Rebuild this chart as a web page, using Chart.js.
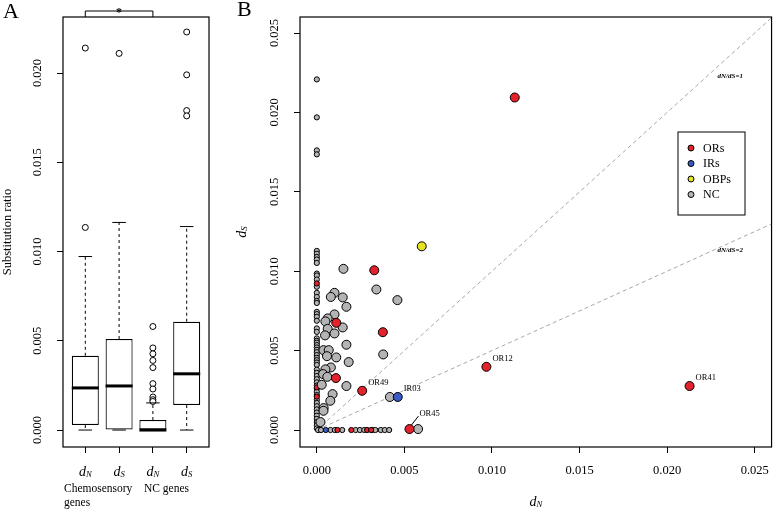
<!DOCTYPE html>
<html>
<head>
<meta charset="utf-8">
<script src="https://cdn.jsdelivr.net/npm/chart.js@4.4.0/dist/chart.umd.min.js"></script>
<style>
  body { margin: 0; background: #fff; }
  #wrap { position: relative; width: 779px; height: 510px; }
  canvas { position: absolute; top: 0; }
  #chart-a { left: 0; }
  #chart-b { left: 230px; }
</style>
</head>
<body>
<div id="wrap">
  <canvas id="chart-a" width="230" height="510"></canvas>
  <canvas id="chart-b" width="549" height="510"></canvas>
</div>
<script>
const serif = '"Liberation Serif", "DejaVu Serif", serif';

// ---- panel A: box plots ----
const boxSubscripts = ['N', 'S', 'N', 'S'];
const boxGroups = ['Chemosensory', 'genes', 'NC genes'];
const boxLower = [0, 0, 0, 0];
const boxQ1 = [0.00028, 0, 0, 0.0014];
const boxMedian = [0.00236, 0.00247, 0, 0.00315];
const boxQ3 = [0.00416, 0.0051, 0.00056, 0.00607];
const boxUpper = [0.00972, 0.01163, 0.00152, 0.0114];
const boxOutliers = [
    [0.01135, 0.0214],
    [0.0211],
    [0.0058, 0.0046, 0.00427, 0.0039, 0.0035, 0.0026, 0.0023, 0.00185, 0.0017, 0.0016],
    [0.0223, 0.0199, 0.0179, 0.0176]
];
const yTicksA = [0, 0.005, 0.010, 0.015, 0.020];

// ---- panel B: dN vs dS scatter ----
const xTicksB = [0, 0.005, 0.010, 0.015, 0.020, 0.025];
const yTicksB = [0, 0.005, 0.010, 0.015, 0.020, 0.025];

const orBigN = [0.0113, 0.00328, 0.00111, 0.00377, 0.00109, 0.00259, 0.00529, 0.00968, 0.02128];
const orBigS = [0.02094, 0.01006, 0.00675, 0.00616, 0.00327, 0.00247, 0.00006, 0.00398, 0.00277];
const orColumnS = [0.00923, 0.00269, 0.0021];
const orRowN = [0.00118, 0.00197, 0.00287, 0.0031];

const irBigN = [0.00462];
const irBigS = [0.00208];
const irRowN = [0.00051];

const obpBigN = [0.00599];
const obpBigS = [0.01157];

const ncBigN = [0.00152, 0.0034, 0.0046, 0.00101, 0.0008, 0.00148, 0.00169, 0.00101, 0.00062, 0.00049,
    0.00062, 0.00148, 0.00101, 0.00047, 0.00169, 0.00038, 0.00068, 0.00058, 0.00111, 0.00182,
    0.0008, 0.00049, 0.00036, 0.0006, 0.00028, 0.00169, 0.0009, 0.00077, 0.00039, 0.00038,
    0.00021, 0.00417, 0.00379, 0.00578];
const ncBigS = [0.01015, 0.00885, 0.00818, 0.00864, 0.00838, 0.00835, 0.00776, 0.00728, 0.00703, 0.00684,
    0.00637, 0.00646, 0.00608, 0.00596, 0.00537, 0.00503, 0.00503, 0.00465, 0.00457, 0.00428,
    0.00394, 0.00382, 0.00352, 0.00335, 0.00285, 0.00277, 0.00226, 0.00184, 0.00138, 0.00121,
    0.0005, 0.00208, 0.00476, 0.00006];
const ncColumnS = [0.02208, 0.01969, 0.01761, 0.01736, 0.01128, 0.0111, 0.0109, 0.01074, 0.01052, 0.00985,
    0.00973, 0.00948, 0.00902, 0.00864, 0.00838, 0.00813, 0.008, 0.00744, 0.0073, 0.00713,
    0.00688, 0.0064, 0.00618, 0.00577, 0.00562, 0.0055, 0.00535, 0.0052, 0.00505, 0.0049,
    0.00472, 0.00455, 0.0044, 0.00425, 0.0041, 0.0038, 0.0036, 0.0034, 0.0032, 0.003,
    0.0028, 0.0026, 0.0024, 0.0022, 0.0019, 0.0017, 0.0015, 0.0013, 0.0011, 0.0009,
    0.0007, 0.0005, 0.0003, 0.0001];
const ncRowN = [0.00007, 0.00024, 0.00078, 0.00103, 0.00145, 0.00222, 0.00246, 0.00271, 0.00317, 0.00334,
    0.00365, 0.00388, 0.00413];

const geneLabels = ['OR49', 'IR03', 'OR45', 'OR12', 'OR41'];
const geneLabelN = [0.00259, 0.00462, 0.00529, 0.00968, 0.02128];
const geneLabelS = [0.00247, 0.00208, 0.00006, 0.00398, 0.00277];

const ratioLines = [1, 2];
const legendLabels = ['ORs', 'IRs', 'OBPs', 'NC'];
const legendColors = ['#e3222b', '#3a5bc4', '#e6e324', '#b4b4b4'];

const pairs = (xs, ys) => xs.map((v, i) => ({ x: v, y: ys[i] }));

const drawD = (ctx, cx, baseline, sub, size) => {
    ctx.font = `italic ${size}px ${serif}`;
    const wd = ctx.measureText('d').width;
    ctx.font = `italic ${size * 0.62}px ${serif}`;
    const ws = ctx.measureText(sub).width;
    const left = cx - (wd + ws) / 2;
    ctx.textAlign = 'left';
    ctx.textBaseline = 'alphabetic';
    ctx.font = `italic ${size}px ${serif}`;
    ctx.fillText('d', left, baseline);
    ctx.font = `italic ${size * 0.62}px ${serif}`;
    ctx.fillText(sub, left + wd, baseline + 1);
};

const drawRotatedTicks = (ctx, scale, left) => {
    ctx.save();
    ctx.fillStyle = '#000';
    ctx.font = `12.5px ${serif}`;
    ctx.textAlign = 'center';
    ctx.textBaseline = 'middle';
    scale.ticks.forEach(t => {
        const py = scale.getPixelForValue(t.value);
        ctx.save();
        ctx.translate(left - 25, py);
        ctx.rotate(-Math.PI / 2);
        ctx.fillText(t.value.toFixed(3), 0, 0);
        ctx.restore();
    });
    ctx.restore();
};

const boxExtras = {
    id: 'boxExtras',
    afterDatasetsDraw(chart) {
        const { ctx, scales: { x, y } } = chart;
        const meta = chart.getDatasetMeta(0);
        ctx.save();
        ctx.strokeStyle = '#000';
        boxSubscripts.forEach((s, i) => {
            const cx = x.getPixelForValue(i + 1);
            const w = meta.data[i].width;
            ctx.lineWidth = 1;
            ctx.setLineDash([3, 3]);
            ctx.beginPath();
            ctx.moveTo(cx, y.getPixelForValue(boxQ3[i]));
            ctx.lineTo(cx, y.getPixelForValue(boxUpper[i]));
            ctx.moveTo(cx, y.getPixelForValue(boxQ1[i]));
            ctx.lineTo(cx, y.getPixelForValue(boxLower[i]));
            ctx.stroke();
            ctx.setLineDash([]);
            ctx.beginPath();
            [boxUpper[i], boxLower[i]].forEach(v => {
                const py = y.getPixelForValue(v);
                ctx.moveTo(cx - w / 4, py);
                ctx.lineTo(cx + w / 4, py);
            });
            ctx.stroke();
            ctx.lineWidth = 3;
            ctx.beginPath();
            const pm = y.getPixelForValue(boxMedian[i]);
            ctx.moveTo(cx - w / 2, pm);
            ctx.lineTo(cx + w / 2, pm);
            ctx.stroke();
        });
        ctx.restore();
    },
    afterDraw(chart) {
        const { ctx, chartArea: a, scales: { x, y } } = chart;
        ctx.save();
        ctx.strokeStyle = '#000';
        ctx.lineWidth = 1.2;
        ctx.strokeRect(a.left, a.top, a.right - a.left, a.bottom - a.top);

        // significance bracket
        const b1 = x.getPixelForValue(1), b2 = x.getPixelForValue(3);
        ctx.lineWidth = 1;
        ctx.beginPath();
        ctx.moveTo(b1, a.top);
        ctx.lineTo(b1, a.top - 6);
        ctx.lineTo(b2, a.top - 6);
        ctx.lineTo(b2, a.top);
        ctx.stroke();
        ctx.fillStyle = '#000';
        ctx.font = `bold 12px ${serif}`;
        ctx.textAlign = 'center';
        ctx.textBaseline = 'middle';
        ctx.fillText('*', (b1 + b2) / 2, a.top - 4);

        drawRotatedTicks(ctx, y, a.left);

        boxSubscripts.forEach((s, i) => drawD(ctx, x.getPixelForValue(i + 1), 476, s, 14));

        ctx.font = `11.5px ${serif}`;
        ctx.textAlign = 'left';
        ctx.textBaseline = 'middle';
        ctx.fillText(boxGroups[0], 64, 489);
        ctx.fillText(boxGroups[1], 64, 503);
        ctx.fillText(boxGroups[2], 144, 489);

        ctx.font = `12.5px ${serif}`;
        ctx.textAlign = 'center';
        ctx.save();
        ctx.translate(8, (a.top + a.bottom) / 2);
        ctx.rotate(-Math.PI / 2);
        ctx.fillText('Substitution ratio', 0, 0);
        ctx.restore();

        ctx.font = `22px ${serif}`;
        ctx.textAlign = 'left';
        ctx.fillText('A', 3, 12);
        ctx.restore();
    }
};

const axisGrid = { drawOnChartArea: false, drawTicks: true, tickLength: 6, tickColor: '#000', tickWidth: 1, offset: false };

new Chart(document.getElementById('chart-a'), {
    type: 'bar',
    data: {
        datasets: [{
            type: 'bar',
            data: boxSubscripts.map((s, i) => ({ x: i + 1, y: [boxQ1[i], boxQ3[i]] })),
            backgroundColor: '#fff',
            borderColor: '#000',
            borderWidth: 1.2,
            borderSkipped: false,
            barPercentage: 0.8,
            categoryPercentage: 1
        }, {
            type: 'scatter',
            data: boxOutliers.flatMap((list, i) => list.map(v => ({ x: i + 1, y: v }))),
            pointRadius: 3,
            pointBorderWidth: 1,
            borderColor: '#000',
            backgroundColor: '#fff'
        }]
    },
    options: {
        responsive: false,
        devicePixelRatio: 1,
        animation: false,
        layout: { padding: { top: 17, right: 21, left: 0, bottom: 0 } },
        plugins: { legend: { display: false }, tooltip: { enabled: false } },
        scales: {
            x: {
                type: 'linear', min: 0.34, max: 4.66, offset: false,
                afterBuildTicks: s => { s.ticks = [1, 2, 3, 4].map(v => ({ value: v })); },
                afterFit: s => { s.height = 63; },
                ticks: { display: false },
                grid: axisGrid,
                border: { display: false }
            },
            y: {
                min: -0.00095, max: 0.02314,
                afterBuildTicks: s => { s.ticks = yTicksA.map(v => ({ value: v })); },
                afterFit: s => { s.width = 63; },
                ticks: { display: false },
                grid: axisGrid,
                border: { display: false }
            }
        }
    },
    plugins: [boxExtras]
});

// ---- panel B ----
const scatterExtras = {
    id: 'scatterExtras',
    afterDraw(chart) {
        const { ctx, chartArea: a, scales: { x, y } } = chart;
        ctx.save();
        ctx.strokeStyle = '#000';
        ctx.lineWidth = 1.2;
        ctx.strokeRect(a.left, a.top, a.right - a.left, a.bottom - a.top);
        ctx.fillStyle = '#000';

        drawRotatedTicks(ctx, y, a.left);

        // axis titles
        drawD(ctx, (a.left + a.right) / 2, 506, 'N', 14);
        ctx.save();
        ctx.translate(16, (a.top + a.bottom) / 2);
        ctx.rotate(-Math.PI / 2);
        drawD(ctx, 0, 0, 'S', 14);
        ctx.restore();

        // ratio line labels
        ctx.font = `italic bold 7px ${serif}`;
        ctx.textAlign = 'center';
        ctx.textBaseline = 'middle';
        ctx.fillText('dN/dS=1', x.getPixelForValue(0.0236), y.getPixelForValue(0.0223));
        ctx.fillText('dN/dS=2', x.getPixelForValue(0.0236), y.getPixelForValue(0.01132));

        // gene labels
        ctx.font = `8.5px ${serif}`;
        ctx.textAlign = 'left';
        geneLabels.forEach((g, i) => {
            const px = x.getPixelForValue(geneLabelN[i]);
            const py = y.getPixelForValue(geneLabelS[i]);
            if (g === 'OR45') {
                ctx.lineWidth = 1;
                ctx.beginPath();
                ctx.moveTo(px + 2, py - 4);
                ctx.lineTo(px + 9, py - 13);
                ctx.stroke();
                ctx.fillText(g, px + 10, py - 15);
            } else {
                ctx.fillText(g, px + 6, py - 8);
            }
        });

        // legend
        const lx = 448, ly = 132, lw = 67, lh = 83;
        ctx.fillStyle = '#fff';
        ctx.fillRect(lx, ly, lw, lh);
        ctx.lineWidth = 1;
        ctx.strokeRect(lx, ly, lw, lh);
        ctx.font = `12px ${serif}`;
        ctx.textBaseline = 'middle';
        legendLabels.forEach((l, i) => {
            const yy = ly + 16 + i * 15.5;
            ctx.beginPath();
            ctx.arc(lx + 13, yy, 3, 0, Math.PI * 2);
            ctx.fillStyle = legendColors[i];
            ctx.fill();
            ctx.stroke();
            ctx.fillStyle = '#000';
            ctx.fillText(l, lx + 25, yy + 0.5);
        });

        ctx.font = `22px ${serif}`;
        ctx.textAlign = 'left';
        ctx.fillText('B', 7, 10);
        ctx.restore();
    }
};

const dot = (label, data, color, radius) => ({
    label, data,
    backgroundColor: color,
    borderColor: '#000',
    pointRadius: radius,
    pointBorderWidth: 1
});

new Chart(document.getElementById('chart-b'), {
    type: 'scatter',
    data: {
        datasets: [
            dot('IRs', pairs(irBigN, irBigS), legendColors[1], 4.5),
            dot('ORs', pairs(orBigN, orBigS), legendColors[0], 4.5),
            dot('OBPs', pairs(obpBigN, obpBigS), legendColors[2], 4.5),
            dot('NC', pairs(ncBigN, ncBigS), legendColors[3], 4.5),
            dot('ORs', orColumnS.map(s => ({ x: 0, y: s })).concat(orRowN.map(n => ({ x: n, y: 0 }))), legendColors[0], 2.6),
            dot('IRs', irRowN.map(n => ({ x: n, y: 0 })), legendColors[1], 2.6),
            dot('NC', ncColumnS.map(s => ({ x: 0, y: s })).concat(ncRowN.map(n => ({ x: n, y: 0 }))), legendColors[3], 2.6),
            ...ratioLines.map(r => ({
                type: 'line',
                data: [{ x: 0, y: 0 }, { x: 0.026, y: 0.026 / r }],
                borderColor: '#a8a8a8',
                borderWidth: 1,
                borderDash: [4, 3],
                pointRadius: 0,
                showLine: true
            }))
        ]
    },
    options: {
        responsive: false,
        devicePixelRatio: 1,
        animation: false,
        layout: { padding: { top: 17, right: 1, left: 0, bottom: 0 } },
        plugins: { legend: { display: false }, tooltip: { enabled: false } },
        scales: {
            x: {
                type: 'linear', min: -0.00096, max: 0.02596,
                afterBuildTicks: s => { s.ticks = xTicksB.map(v => ({ value: v })); },
                afterFit: s => { s.height = 63; },
                ticks: {
                    color: '#000', font: { family: serif, size: 12.5 }, padding: 10,
                    maxRotation: 0, autoSkip: false,
                    callback: v => v.toFixed(3)
                },
                grid: axisGrid,
                border: { display: false }
            },
            y: {
                min: -0.00107, max: 0.02601,
                afterBuildTicks: s => { s.ticks = yTicksB.map(v => ({ value: v })); },
                afterFit: s => { s.width = 70; },
                ticks: { display: false },
                grid: axisGrid,
                border: { display: false }
            }
        }
    },
    plugins: [scatterExtras]
});
</script>
</body>
</html>
